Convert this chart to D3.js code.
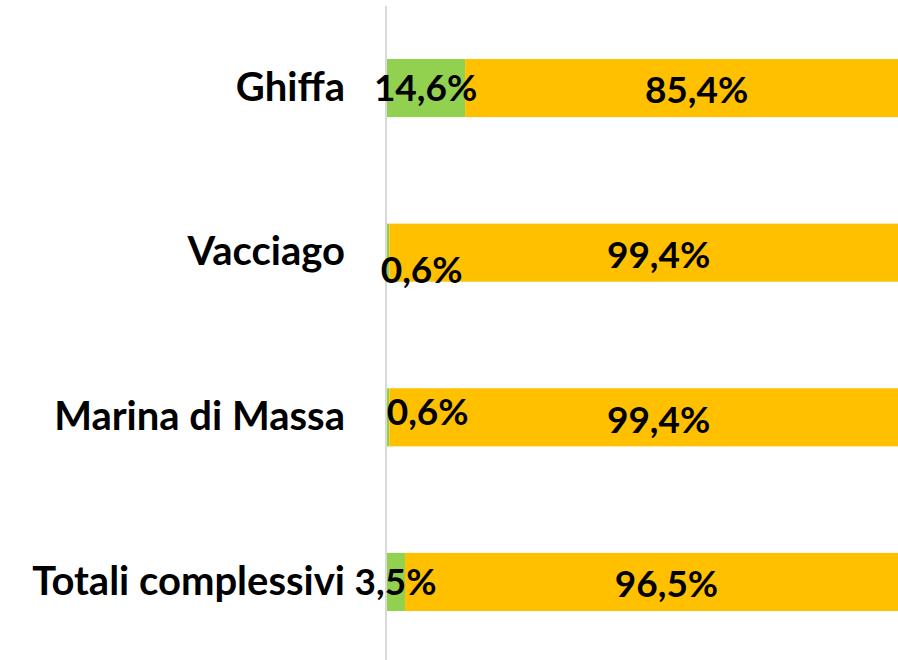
<!DOCTYPE html>
<html>
<head>
<meta charset="utf-8">
<script src="https://cdn.jsdelivr.net/npm/d3@7"></script>
<style>
  body { margin: 0; background: #fff; }
  text { font-family: Lato, 'Open Sans', sans-serif; font-weight: bold; fill: #000; }
</style>
</head>
<body>
<div id="chart"></div>
<script>
let categories = ['Ghiffa', 'Vacciago', 'Marina di Massa', 'Totali complessivi'];
let seriesNames = ['verde', 'giallo'];
let greenValues = [14.6, 0.6, 0.6, 3.5];
let yellowValues = [85.4, 99.4, 99.4, 96.5];
let colors = ['#92d050', '#ffc000'];
// Excel moved a few small labels off the bar centre: [dx, dy] per category for the green label
let greenLabelNudge = [[0, 0], [34, 17], [40, -6], [0, 0]];

let width = 898;
let height = 660;
let margin = { top: 0, right: -30, bottom: 0, left: 386 };
let w = width - margin.left - margin.right;

let svg = d3.select('#chart')
  .append('svg')
  .attr('width', width)
  .attr('height', height)
  .append('g')
  .attr('transform', 'translate(' + margin.left + ',' + margin.top + ')');

let xScale = d3.scaleLinear()
  .domain([0, 100])
  .range([0, w]);
let yScale = d3.scaleBand()
  .domain(categories)
  .range([59, 611])
  .paddingInner(0.647)
  .paddingOuter(0);

// stacked data
let rows = categories.map((c, i) => ({ cat: c, verde: greenValues[i], giallo: yellowValues[i] }));
let stack = d3.stack().keys(seriesNames)(rows);

// bars
svg.selectAll('g.series')
  .data(stack)
  .enter()
  .append('g')
  .attr('class', 'series')
  .attr('fill', (d, i) => colors[i])
  .selectAll('rect')
  .data(d => d)
  .enter()
  .append('rect')
  .attr('x', d => xScale(d[0]))
  .attr('y', d => yScale(d.data.cat))
  .attr('width', d => xScale(d[1]) - xScale(d[0]))
  .attr('height', yScale.bandwidth());

// vertical axis line
svg.append('line')
  .attr('x1', 0)
  .attr('x2', 0)
  .attr('y1', 6)
  .attr('y2', height)
  .style('stroke', '#d9d9d9')
  .style('stroke-width', 2);

// category labels
let yAxis = d3.axisLeft(yScale).tickSize(0).tickPadding(41);
let axisG = svg.append('g').call(yAxis);
axisG.select('.domain').remove();
axisG.selectAll('text')
  .attr('font-size', '40px')
  .attr('font-family', null);

// value labels
let fmt = v => v.toFixed(1).replace('.', ',') + '%';
stack.forEach((s, si) => {
  svg.append('g')
    .selectAll('text')
    .data(s)
    .enter()
    .append('text')
    .attr('x', (d, i) => (xScale(d[0]) + xScale(d[1])) / 2 + (si === 0 ? greenLabelNudge[i][0] : 0))
    .attr('y', (d, i) => yScale(d.data.cat) + yScale.bandwidth() / 2 + (si === 0 ? greenLabelNudge[i][1] : 2))
    .attr('dy', '0.36em')
    .attr('text-anchor', 'middle')
    .attr('font-size', '37px')
    .text(d => fmt(d.data[s.key]));
});
</script>
</body>
</html>
